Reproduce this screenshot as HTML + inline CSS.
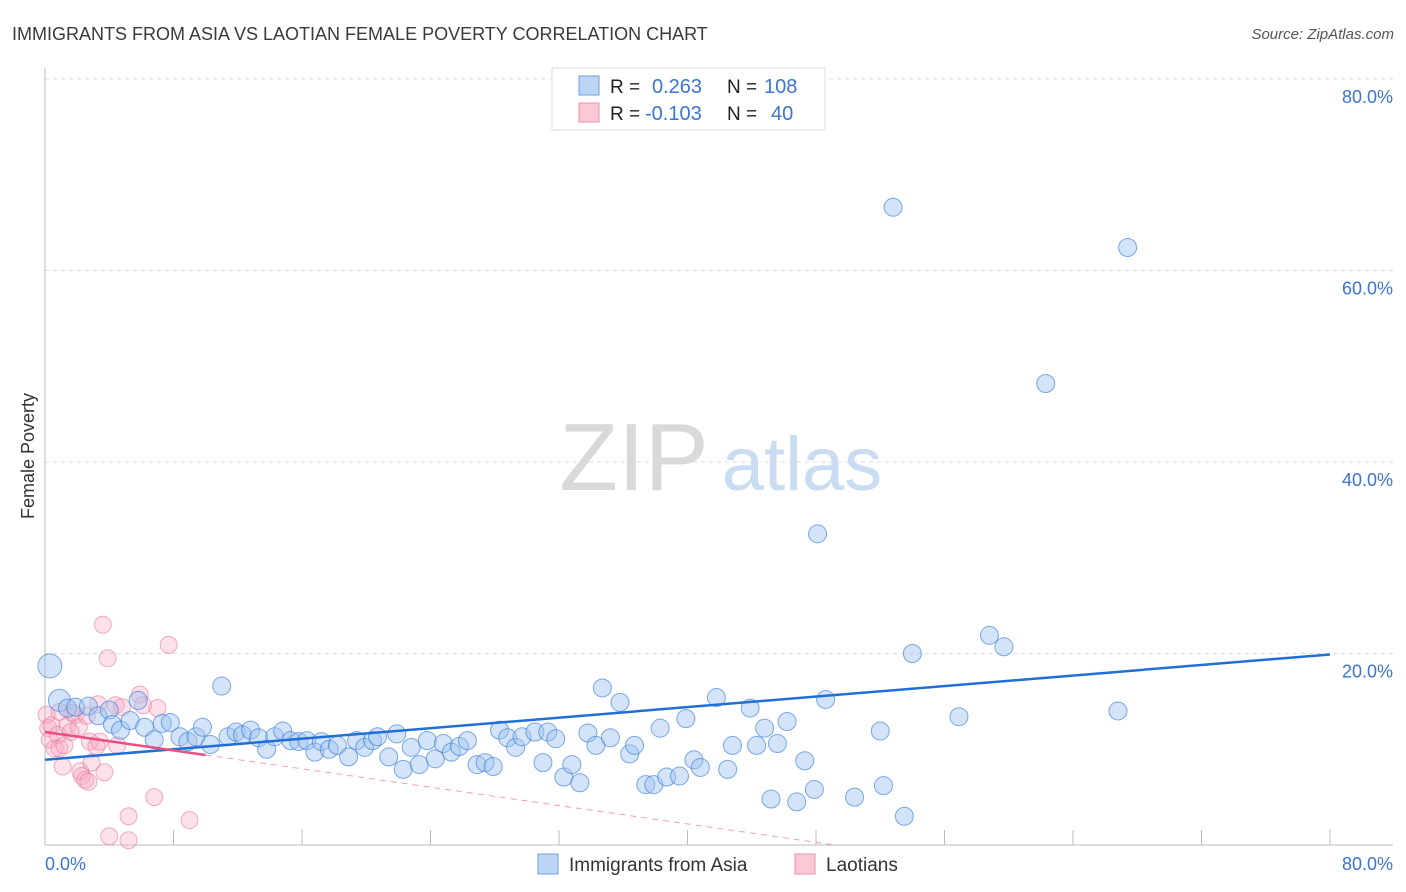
<!DOCTYPE html>
<html><head><meta charset="utf-8">
<style>
body{margin:0;background:#fff;font-family:"Liberation Sans",sans-serif;}
#wrap{position:relative;width:1406px;height:892px;overflow:hidden;}
svg text{font-family:"Liberation Sans",sans-serif;}
</style></head>
<body>
<div id="wrap">
<svg id="chart" width="1406" height="892">
  <text x="12" y="40" font-size="18" fill="#3a3a3a">IMMIGRANTS FROM ASIA VS LAOTIAN FEMALE POVERTY CORRELATION CHART</text>
  <text x="1394" y="39" font-size="15" fill="#555" font-style="italic" text-anchor="end">Source: ZipAtlas.com</text>
  <g id="grid"></g>
  <text x="634" y="490" font-size="96" fill="#d9d9d9" font-family="Liberation Serif" text-anchor="middle">ZIP</text>
  <text x="802" y="490" font-size="76" fill="#c9dcf2" text-anchor="middle">atlas</text>
  <g id="axes"></g>
  <g id="pts"></g>
  <g id="trends"></g>
  <text x="34" y="456" font-size="18" fill="#333" text-anchor="middle" transform="rotate(-90 34 456)">Female Poverty</text>
  <text x="45" y="870" font-size="18" fill="#3b74d1">0.0%</text>
  <text x="1393" y="870" font-size="18" fill="#3b74d1" text-anchor="end">80.0%</text>
  <g>
    <rect x="552" y="68" width="273" height="62" fill="#fff" stroke="#ddd"/>
    <rect x="579" y="76" width="20" height="19" fill="#bcd5f5" stroke="#6e9fe0"/>
    <rect x="579" y="103" width="20" height="19" fill="#f9c9d6" stroke="#ee91ad"/>
    <text x="610" y="93" font-size="19" fill="#222">R = </text>
    <text x="652" y="93" font-size="20" fill="#3b74d1">0.263</text>
    <text x="727" y="93" font-size="19" fill="#222">N = </text>
    <text x="764" y="93" font-size="20" fill="#3b74d1">108</text>
    <text x="610" y="120" font-size="19" fill="#222">R = </text>
    <text x="645" y="120" font-size="20" fill="#3b74d1">-0.103</text>
    <text x="727" y="120" font-size="19" fill="#222">N = </text>
    <text x="771" y="120" font-size="20" fill="#3b74d1">40</text>
  </g>
  <g>
    <rect x="538" y="854" width="20" height="20" fill="#bcd5f5" stroke="#6e9fe0"/>
    <text x="569" y="871" font-size="19" fill="#333">Immigrants from Asia</text>
    <rect x="795" y="854" width="20" height="20" fill="#f9c9d6" stroke="#ee91ad"/>
    <text x="826" y="871" font-size="19" fill="#333">Laotians</text>
  </g>
</svg>
</div>
<script>
const yTicks=[20,40,60,80];
const yTickLabels=["20.0%","40.0%","60.0%","80.0%"];
const xTickVals=[0,8,16,24,32,40,48,56,64,72,80];
const asiaX=[0.3,0.9,1.4,1.9,2.7,3.3,4.0,4.2,4.7,5.3,5.8,6.2,6.8,7.3,7.8,8.4,8.9,9.4,9.8,10.3,11.0,11.4,11.9,12.3,12.8,13.3,13.8,14.3,14.8,15.3,15.8,16.3,16.8,17.2,17.7,18.2,18.9,19.4,19.9,20.4,20.7,21.4,21.9,22.3,22.8,23.3,23.8,24.3,24.8,25.3,25.8,26.3,26.9,27.4,27.9,28.3,28.8,29.3,29.7,30.5,31.0,31.3,31.8,32.3,32.8,33.3,33.8,34.3,34.7,35.2,35.8,36.4,36.7,37.4,37.9,38.3,38.7,39.5,39.9,40.4,40.8,41.8,42.5,42.8,43.9,44.3,44.8,45.2,45.6,46.2,46.8,47.3,47.9,48.1,48.6,50.4,52.0,52.2,52.8,53.5,54.0,56.9,58.8,59.7,62.3,66.8,67.4];
const asiaY=[18.7,15.1,14.3,14.4,14.5,13.5,14.1,12.6,12.0,13.0,15.1,12.3,11.0,12.7,12.8,11.3,10.8,11.3,12.3,10.5,16.6,11.3,11.8,11.5,12.0,11.2,10.0,11.3,11.9,10.9,10.8,10.9,9.7,10.8,10.0,10.4,9.2,10.9,10.2,10.9,11.3,9.2,11.6,7.9,10.2,8.4,10.9,9.0,10.6,9.7,10.3,10.9,8.4,8.6,8.2,12.0,11.2,10.2,11.3,11.8,8.6,11.8,11.1,7.1,8.4,6.5,11.7,10.4,16.4,11.2,14.9,9.5,10.4,6.3,6.3,12.2,7.1,7.2,13.2,8.9,8.1,15.4,7.9,10.4,14.3,10.4,12.2,4.8,10.6,12.9,4.5,8.8,5.8,32.5,15.2,5.0,11.9,6.2,66.6,3.0,20.0,13.4,21.9,20.7,48.2,14.0,62.4];
const laoX=[0.1,0.2,0.3,0.4,0.6,0.8,0.9,1.1,1.2,1.4,1.6,1.7,1.9,2.1,2.2,2.3,2.5,2.7,2.8,2.9,3.2,3.3,3.6,3.7,3.9,4.0,4.4,4.5,4.8,5.2,5.2,5.9,6.1,6.8,7.0,7.7,9.0,2.6,3.4,0.9];
const laoY=[13.6,12.2,11.0,12.5,10.1,11.5,10.1,8.2,10.4,12.5,11.8,13.8,13.6,12.3,7.7,7.2,6.8,6.6,10.8,8.6,10.3,14.7,23.0,7.6,19.5,0.9,14.6,10.4,14.4,3.0,0.5,15.7,14.6,5.0,14.3,20.9,2.6,13.5,10.8,13.9];
const asiaTrend=[8.9,19.9]; // value at x=0 and x=80
const laoTrend=[11.8,-0.24]; // intercept, slope
const NS="http://www.w3.org/2000/svg";
const X0=45,X1=1330,Y0=845,Y80=79;
function sx(v){return X0+(X1-X0)*v/80;}
function sy(v){return Y0-(Y0-Y80)*v/80;}
function mk(tag,attrs,parent){const e=document.createElementNS(NS,tag);for(const k in attrs)e.setAttribute(k,attrs[k]);parent.appendChild(e);return e;}
const grid=document.getElementById('grid'),axes=document.getElementById('axes'),pts=document.getElementById('pts'),tr=document.getElementById('trends');
yTicks.forEach((v,i)=>{
  const l=mk('line',{x1:X0,x2:1393,y1:sy(v),y2:sy(v),stroke:'#ddd','stroke-dasharray':'4,4'},grid);
  
  
  const t=mk('text',{x:1393,y:sy(v)+24,'font-size':18,fill:'#3b74d1','text-anchor':'end'},grid);
  
  
  t.textContent=yTickLabels[i];
});
const ax=mk('line',{x1:X0,x2:X0,y1:68,y2:Y0,stroke:'#bbb'},axes);


const bx=mk('line',{x1:X0,x2:1393,y1:Y0,y2:Y0,stroke:'#bbb'},axes);


xTickVals.forEach(v=>{
  const t=mk('line',{x1:sx(v),x2:sx(v),y1:Y0,y2:Y0-15,stroke:'#bbb'},axes);
  
  
});
laoX.forEach((x,i)=>{
  const c=mk('circle',{cx:sx(x),cy:sy(laoY[i]),r:8.5,fill:'rgba(246,170,195,0.35)',stroke:'rgba(232,120,155,0.6)','stroke-width':1},pts);
  
  
});
asiaX.forEach((x,i)=>{
  const r=i===0?12:(i===1?11:9);
  const c=mk('circle',{cx:sx(x),cy:sy(asiaY[i]),r:r,fill:'rgba(160,195,240,0.45)',stroke:'rgba(60,125,215,0.65)','stroke-width':1},pts);
  
  
});
const bl=mk('line',{x1:sx(0),y1:sy(asiaTrend[0]),x2:sx(80),y2:sy(asiaTrend[1]),stroke:'#1f6fd6','stroke-width':2.5},tr);


const lx0=0,lx1=10,lx2=-laoTrend[0]/laoTrend[1];
const pl=mk('line',{x1:sx(lx0),y1:sy(laoTrend[0]),x2:sx(lx1),y2:sy(laoTrend[0]+laoTrend[1]*lx1),stroke:'#e8507e','stroke-width':2.5},tr);


const pd=mk('line',{x1:sx(lx1),y1:sy(laoTrend[0]+laoTrend[1]*lx1),x2:sx(lx2),y2:sy(0),stroke:'#eea0b8','stroke-width':1,'stroke-dasharray':'6,5'},tr);


</script>
</body></html>
